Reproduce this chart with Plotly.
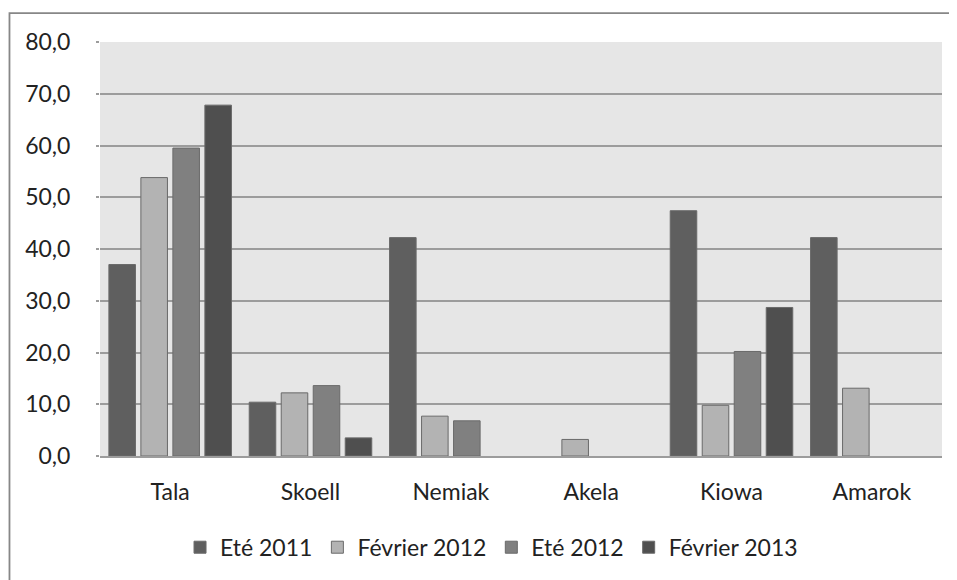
import plotly.graph_objects as go

categories = ["Tala", "Skoell", "Nemiak", "Akela", "Kiowa", "Amarok"]
series_names = ["Eté 2011", "Février 2012", "Eté 2012", "Février 2013"]
ete_2011 = [37.0, 10.4, 42.2, None, 47.4, 42.2]
fevrier_2012 = [53.8, 12.2, 7.7, 3.2, 9.8, 13.1]
ete_2012 = [59.5, 13.6, 6.8, None, 20.2, None]
fevrier_2013 = [67.8, 3.5, None, None, 28.7, None]
y_ticks = [0, 10, 20, 30, 40, 50, 60, 70, 80]
y_tick_labels = ["0,0", "10,0", "20,0", "30,0", "40,0", "50,0", "60,0", "70,0", "80,0"]

colors = ["#5f5f5f", "#b3b3b3", "#808080", "#4f4f4f"]
FONT = "Lato"

fig = go.Figure()
for name, vals, c in zip(series_names, [ete_2011, fevrier_2012, ete_2012, fevrier_2013], colors):
    fig.add_trace(go.Bar(
        name=name, x=categories, y=vals,
        marker=dict(color=c, line=dict(color="#6a6a6a", width=1)),
    ))

fig.update_layout(
    width=949, height=572,
    margin=dict(l=92, r=15, t=33.5, b=122.5),
    paper_bgcolor="white",
    plot_bgcolor="#e6e6e6",
    barmode="group",
    bargap=0.088,
    bargroupgap=0.17,
    font=dict(family=FONT, size=23, color="#222222"),
    showlegend=True,
    legend=dict(
        orientation="h", x=0.465, xanchor="center", y=-0.2175, yanchor="middle",
        font=dict(family=FONT, size=23, color="#222222"),
        itemwidth=30, traceorder="normal",
    ),
    xaxis=dict(
        showgrid=False, showline=True, linecolor="#9c9c9c", linewidth=1.5,
        ticks="", ticklabelstandoff=15,
    ),
    yaxis=dict(
        range=[0, 80], tickvals=y_ticks, ticktext=y_tick_labels,
        showgrid=True, gridcolor="#9c9c9c", gridwidth=1.5,
        zeroline=False, showline=False,
        ticks="outside", ticklen=3, tickcolor="#9c9c9c", tickwidth=1.5,
        ticklabelstandoff=21,
    ),
    shapes=[
        dict(type="rect", xref="paper", yref="paper",
             x0=-0.1075, x1=1.03, y0=-0.32, y1=1.0697,
             line=dict(color="#878787", width=1.8), fillcolor="rgba(0,0,0,0)", layer="below"),
    ],
)

fig.write_html("out.html")
